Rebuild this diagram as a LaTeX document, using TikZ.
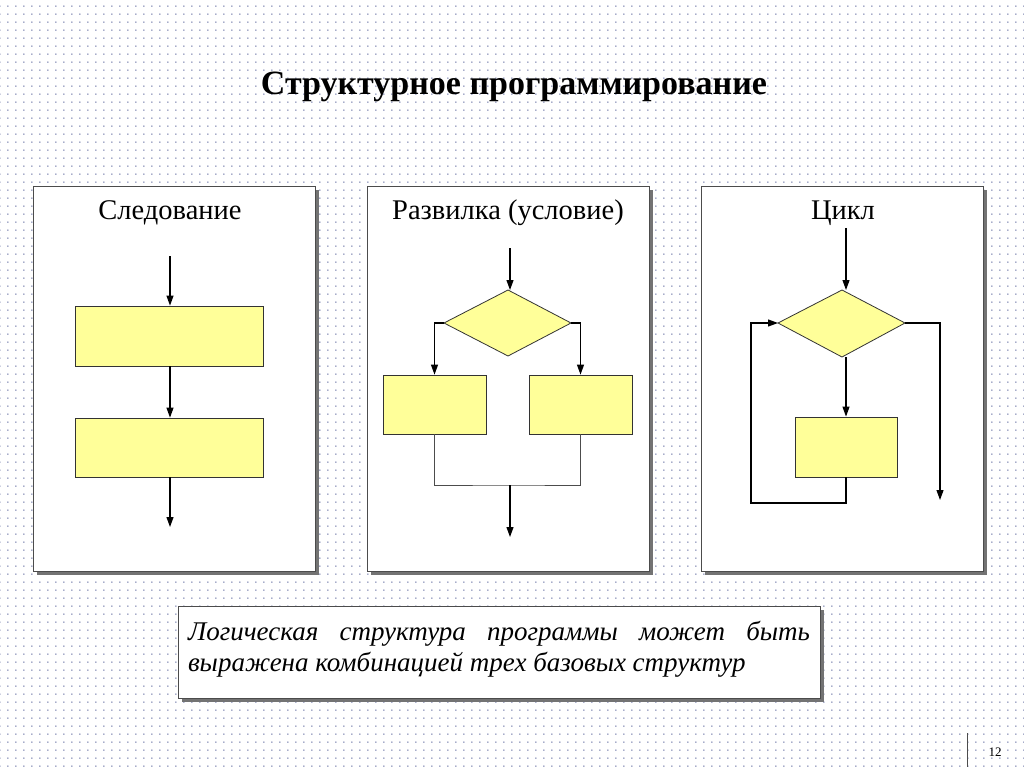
\documentclass[tikz,border=0pt]{standalone}
\usepackage{fontspec}
\setmainfont{Liberation Serif}
\usetikzlibrary{patterns.meta,arrows.meta}
\tikzdeclarepattern{name=bgdots,type=uncolored,bounding box={(0,0) and (8pt,8pt)},tile size={(8pt,8pt)},code={\fill (1pt,1pt) circle (0.9pt);}}
\definecolor{boxy}{HTML}{FFFF99}
\definecolor{dotc}{HTML}{8890B8}
\tikzset{
 panel/.style={draw=black!70,line width=0.8pt,fill=white},
 shadow/.style={fill=black!55},
 blk/.style={draw=black!80,line width=0.8pt,fill=boxy},
 ln/.style={line width=1.1pt},
 arr/.style={ln,-{Triangle[length=10pt,width=7pt]}},
 ptitle/.style={font=\fontsize{28.5}{32}\selectfont},
}
\begin{document}
\begin{tikzpicture}[x=1pt,y=-1pt]
\useasboundingbox (0,0) rectangle (1024,767);
\fill[white] (0,0) rectangle (1024,767);
\fill[pattern={bgdots},pattern color=dotc] (0,0) rectangle (1024,767);
\node[font=\bfseries\fontsize{34}{38}\selectfont] (title) at (514,87) {Структурное программирование};
% panels
\foreach \x in {33,367,701}{
 \fill[shadow] (\x+4,190) rectangle (\x+286,575);
 \draw[panel] (\x,186) rectangle (\x+282,571);
}
\node[ptitle] (t1) at (170,213) {Следование};
\node[ptitle] (t2) at (508,213) {Развилка (условие)};
\node[ptitle] (t3) at (843,213) {Цикл};
% panel 1
\coordinate (a0) at (170,256);
\node[blk,minimum width=188pt,minimum height=60pt,inner sep=0] (b1) at (169,336) {};
\node[blk,minimum width=188pt,minimum height=59pt,inner sep=0] (b2) at (169,447.5) {};
\coordinate (a1) at (170,527);
\draw[arr] (a0) -- (a0|-b1.north);
\draw[arr] (a0|-b1.south) -- (a0|-b2.north);
\draw[arr] (a0|-b2.south) -- (a1);
% panel 2
\coordinate (c0) at (510,248);
\draw[blk] (444,323) coordinate (dl) -- (508,290) coordinate (dt) -- (571,323) coordinate (dr) -- (508,356) coordinate (db) -- cycle;
\node[blk,minimum width=103pt,minimum height=59pt,inner sep=0] (l1) at (434.5,404.5) {};
\node[blk,minimum width=103pt,minimum height=59pt,inner sep=0] (r1) at (580.5,404.5) {};
\draw[arr] (c0) -- (c0|-dt);
\draw[arr] (dl) -| (l1.north);
\draw[arr] (dr) -| (r1.north);
\coordinate (m) at (510,485);
\draw[black!70,line width=0.8pt] (l1.south) |- (m) -| (r1.south);
\coordinate (c1) at (510,537);
\draw[arr] (m) -- (c1);
% panel 3
\coordinate (e0) at (846,228);
\draw[blk] (778,323) coordinate (el) -- (842,290) coordinate (et) -- (905,323) coordinate (er) -- (842,357) coordinate (eb) -- cycle;
\node[blk,minimum width=102pt,minimum height=60pt,inner sep=0] (lb) at (846,447) {};
\draw[arr] (e0) -- (e0|-et);
\draw[arr] (e0|-eb) -- (lb.north);
\coordinate (lp) at (751,503);
\draw[arr] (lb.south) |- (lp) |- (el);
\coordinate (ex) at (940,500);
\draw[arr] (er) -| (ex);
% bottom note
\fill[shadow] (182,610) rectangle (824,702);
\draw[panel] (178,606) rectangle (820,698);
\node[font=\itshape\fontsize{27}{31}\selectfont,text width=622pt,align=justify,inner sep=0] (note) at (499,649)
 {Логическая структура программы может быть выражена комбинацией трех базовых структур};
% page number
\draw[black!70,line width=0.8pt] (967,733) -- (967,767);
\node[font=\fontsize{13}{15}\selectfont] (pg) at (995,752) {12};
\end{tikzpicture}
\end{document}
